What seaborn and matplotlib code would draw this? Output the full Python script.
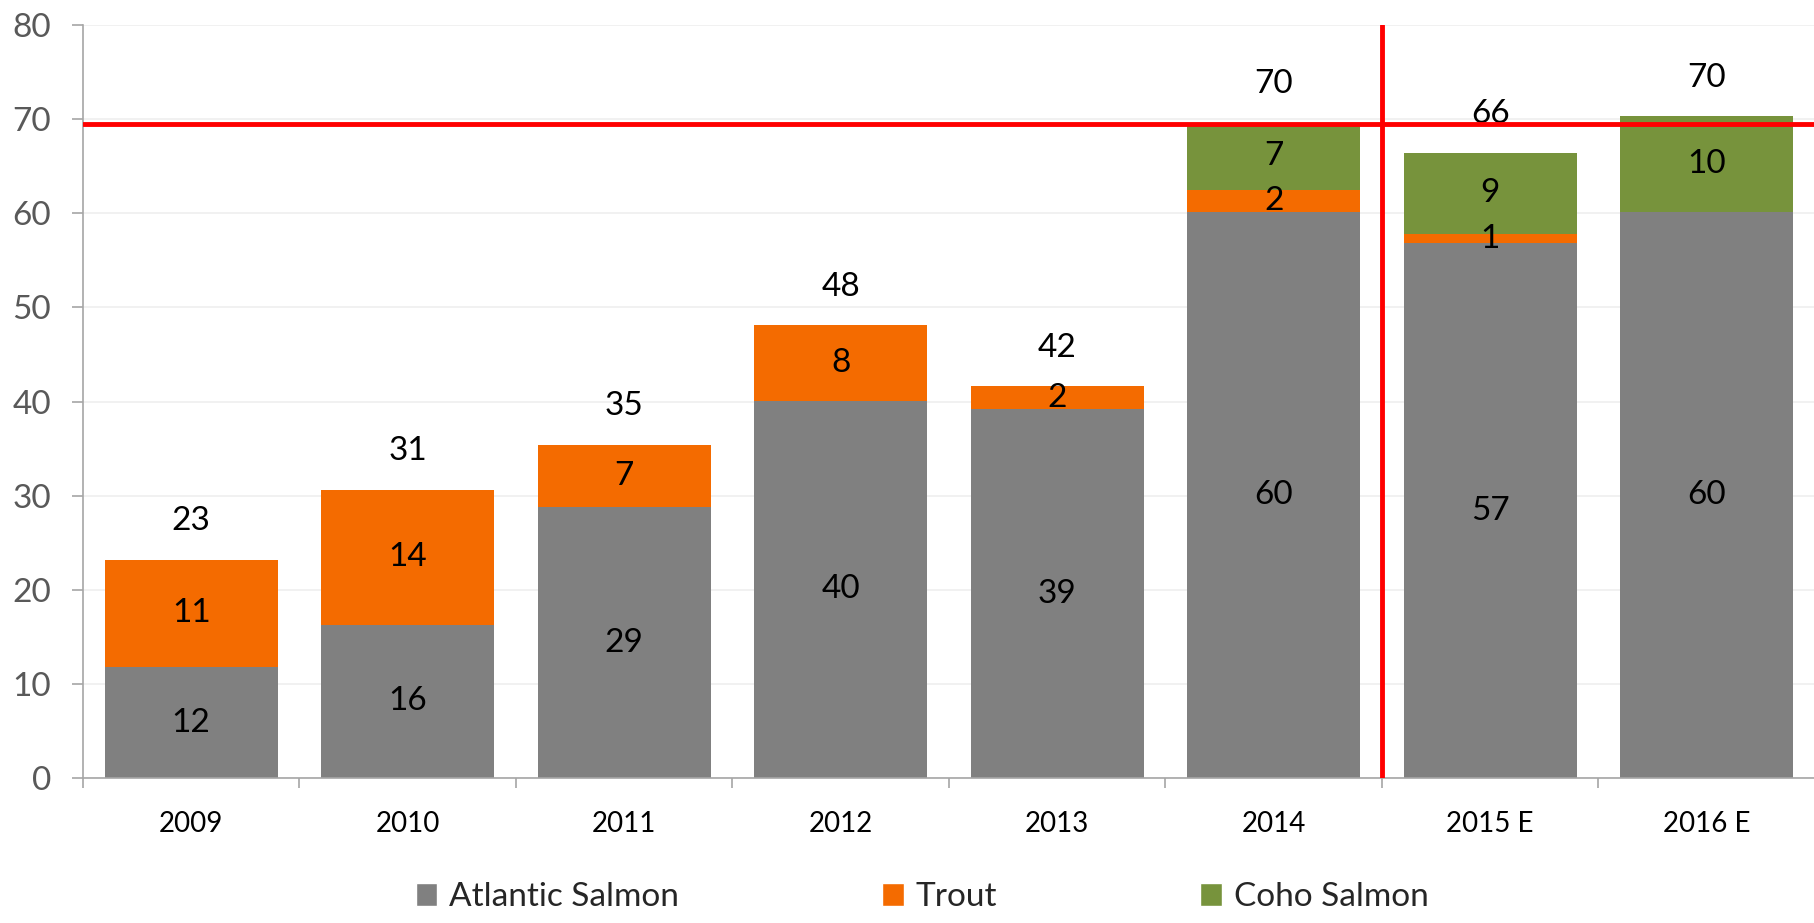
import numpy as np
import pandas as pd
import matplotlib.pyplot as plt
import seaborn as sns
from matplotlib.patches import Patch

years = ['2009', '2010', '2011', '2012', '2013', '2014', '2015 E', '2016 E']
atlantic = [11.8, 16.3, 28.8, 40.1, 39.2, 60.1, 56.8, 60.1]
trout = [11.4, 14.3, 6.6, 8.0, 2.4, 2.4, 1.0, 0.0]
coho = [0.0, 0.0, 0.0, 0.0, 0.0, 7.1, 8.6, 10.2]
ref_level = 69.5
ref_split = 5.5

series = ['Atlantic Salmon', 'Trout', 'Coho Salmon']
colors = {'Atlantic Salmon': '#808080', 'Trout': '#F46B00', 'Coho Salmon': '#77933C'}

df = pd.DataFrame({'year': years, 'Atlantic Salmon': atlantic, 'Trout': trout, 'Coho Salmon': coho})
df['cum_atl'] = df['Atlantic Salmon']
df['cum_trout'] = df['cum_atl'] + df['Trout']
df['total'] = df['cum_trout'] + df['Coho Salmon']

sns.set_theme(style="white")
plt.rcParams['font.family'] = ['Lato', 'DejaVu Sans']

fig = plt.figure(figsize=(18.15, 9.23), dpi=100)
ax = fig.add_axes([0.0457, 0.157, 0.9543, 0.816])

# stacked bars drawn back to front
bar_kw = dict(saturation=1, width=0.8, edgecolor='none', linewidth=0, ax=ax)
sns.barplot(data=df, x='year', y='total', color=colors['Coho Salmon'], **bar_kw)
sns.barplot(data=df, x='year', y='cum_trout', color=colors['Trout'], **bar_kw)
sns.barplot(data=df, x='year', y='cum_atl', color=colors['Atlantic Salmon'], **bar_kw)

# segment labels
fs = 24
for i in range(len(years)):
    ax.text(i, df['cum_atl'][i] / 2, '%.0f' % df['Atlantic Salmon'][i], ha='center', va='center', fontsize=fs, color='black')
    if df['Trout'][i] > 0:
        ax.text(i, df['cum_atl'][i] + df['Trout'][i] / 2, '%.0f' % df['Trout'][i], ha='center', va='center', fontsize=fs, color='black')
    if df['Coho Salmon'][i] > 0:
        ax.text(i, df['cum_trout'][i] + df['Coho Salmon'][i] / 2, '%.0f' % df['Coho Salmon'][i], ha='center', va='center', fontsize=fs, color='black')
    ax.annotate('%.0f' % df['total'][i], (i, df['total'][i]), xytext=(0, 17), textcoords='offset points',
                ha='center', va='bottom', fontsize=fs, color='black')

ax.axhline(ref_level, color='#FF0000', linewidth=3.5, zorder=5)
ax.axvline(ref_split, color='#FF0000', linewidth=3.5, zorder=5)

ax.set_ylim(0, 80)
ax.set_xlim(-0.5, len(years) - 0.5)
ax.set_yticks(np.arange(0, 81, 10))
ax.yaxis.grid(True, color='#EFEFEF', linewidth=1.2)
ax.set_axisbelow(True)
ax.set_xlabel('')
ax.set_ylabel('')

for s in ['top', 'right']:
    ax.spines[s].set_visible(False)
for s in ['left', 'bottom']:
    ax.spines[s].set_color('#A6A6A6')
    ax.spines[s].set_linewidth(1.2)

ax.tick_params(axis='y', length=8, width=1.2, color='#A6A6A6', labelsize=24, labelcolor='#595959', pad=15, left=True)
ax.set_xticks(np.arange(-0.5, len(years), 1), minor=True)
ax.tick_params(axis='x', which='major', length=0, pad=24, labelsize=20, labelcolor='black')
ax.tick_params(axis='x', which='minor', length=7, width=1.2, color='#A6A6A6', bottom=True)

handles = [Patch(facecolor=colors[s], label=s) for s in series]
fig.legend(handles=handles, loc='center', bbox_to_anchor=(0.508, 0.028), ncol=3, frameon=False,
           fontsize=24, handlelength=0.65, handleheight=0.65, handletextpad=0.35, columnspacing=6.1)

fig.savefig('out.png', dpi=100)
